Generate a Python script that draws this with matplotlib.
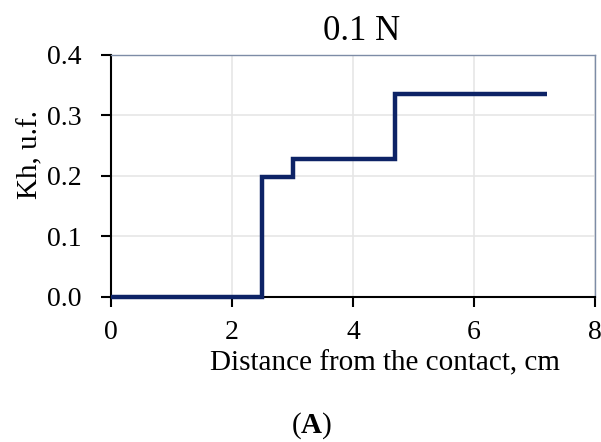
import matplotlib
matplotlib.use("Agg")
import matplotlib.pyplot as plt

x_vals = [0.0, 2.5, 2.5, 3.0, 3.0, 4.7, 4.7, 7.2]
kh_vals = [0.0, 0.0, 0.198, 0.198, 0.228, 0.228, 0.336, 0.336]
x_ticks = [0, 2, 4, 6, 8]
y_ticks = [0.0, 0.1, 0.2, 0.3, 0.4]
y_tick_labels = ["0.0", "0.1", "0.2", "0.3", "0.4"]

plt.rcParams['font.family'] = ['Liberation Serif', 'DejaVu Serif']
plt.rcParams['mathtext.fontset'] = 'custom'
plt.rcParams['mathtext.rm'] = 'Liberation Serif'
plt.rcParams['mathtext.bf'] = 'Liberation Serif:bold'

W, H = 601, 442
fig = plt.figure(figsize=(W/100, H/100), dpi=100)
x0, x1, y0, y1 = 111, 595, 55, 296.7
ax = fig.add_axes([x0/W, 1-y1/H, (x1-x0)/W, (y1-y0)/H])

ax.plot(x_vals, kh_vals, color='#0d2366', lw=3.2, solid_capstyle='butt',
        solid_joinstyle='miter', clip_on=False, zorder=3)

ax.set_xlim(0, 8)
ax.set_ylim(0, 0.4)
ax.set_xticks(x_ticks)
ax.set_yticks(y_ticks)
ax.set_yticklabels(y_tick_labels)
ax.grid(True, color='#e6e6e6', lw=1.2)
ax.set_axisbelow(True)
for s in ['top', 'right']:
    ax.spines[s].set_color('#7d8ca6')
    ax.spines[s].set_linewidth(1.0)
for s in ['left', 'bottom']:
    ax.spines[s].set_color('black')
    ax.spines[s].set_linewidth(1.5)
ax.tick_params(axis='both', direction='out', length=7, width=1.5, labelsize=20, color='black')
ax.tick_params(axis='x', pad=10)
ax.tick_params(axis='y', pad=14)

fig.text(362/W, 1-40/H, "0.1 N", fontsize=25, ha='center', va='baseline')

ax.set_ylabel("Kh, u.f.", fontsize=21)
ax.yaxis.set_label_coords((30-x0)/(x1-x0), (y1-155)/(y1-y0))
ax.yaxis.label.set_va('center')
ax.set_xlabel("Distance from the contact, cm", fontsize=21)
ax.xaxis.set_label_coords((385-x0)/(x1-x0), (y1-363)/(y1-y0))
ax.xaxis.label.set_va('center')

fig.text(312/W, 1-426/H, r"($\mathbf{A}$)", fontsize=21, ha='center', va='center')

fig.savefig("out.png", dpi=100)
